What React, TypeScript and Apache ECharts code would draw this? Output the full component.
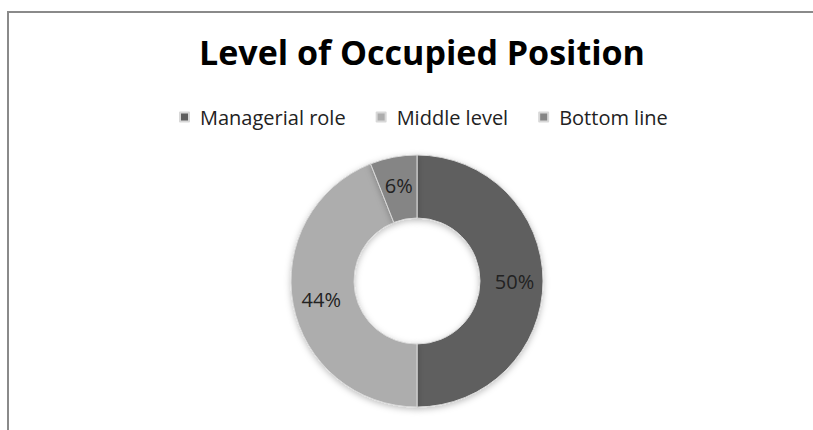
import React, { useEffect, useRef } from "react";
import * as echarts from "echarts";

const titleText = "Level of Occupied Position";
const categories = ["Managerial role", "Middle level", "Bottom line"];
const values = [50, 44, 6];
const colors = ["#5f5f5f", "#adadad", "#858585"];

export default function App() {
  const ref = useRef<HTMLDivElement>(null);
  useEffect(() => {
    document.body.style.margin = "0";
    if (!ref.current) return;
    const chart = echarts.init(ref.current, null, { renderer: "svg" });
    const font = "'Open Sans', 'Noto Sans', sans-serif";
    chart.setOption({
      animation: false,
      backgroundColor: "#ffffff",
      title: {
        text: titleText,
        left: 417,
        textAlign: "center",
        top: 30,
        textStyle: { fontFamily: font, fontWeight: "bold", fontSize: 34, color: "#000" },
      },
      legend: {
        data: categories,
        top: 102,
        left: 174,
        itemWidth: 9,
        itemHeight: 9,
        itemGap: 30,
        icon: "rect",
        textStyle: { fontFamily: font, fontSize: 20, color: "#222", padding: [0, 0, 0, 6] },
      },
      graphic: [
        {
          type: "polyline",
          shape: { points: [[8, 430], [8, 12], [813, 12]] },
          style: { stroke: "#8a8a8a", lineWidth: 2, fill: null },
        },
      ],
      series: [
        {
          type: "pie",
          center: [417, 281],
          radius: [63, 126],
          startAngle: 90,
          clockwise: true,
          data: categories.map((c, i) => ({
            name: c,
            value: values[i],
            itemStyle: { color: colors[i] },
          })),
          itemStyle: {
            borderColor: "#d8d8d8",
            borderWidth: 1,
            shadowBlur: 6,
            shadowColor: "rgba(0,0,0,0.25)",
            shadowOffsetY: 2,
          },
          label: {
            show: true,
            position: "inside",
            formatter: "{c}%",
            fontFamily: font,
            fontSize: 20,
            color: "#222",
          },
          labelLine: { show: false },
        },
      ],
    });
    return () => chart.dispose();
  }, []);
  return <div ref={ref} style={{ width: 813, height: 430 }} />;
}
